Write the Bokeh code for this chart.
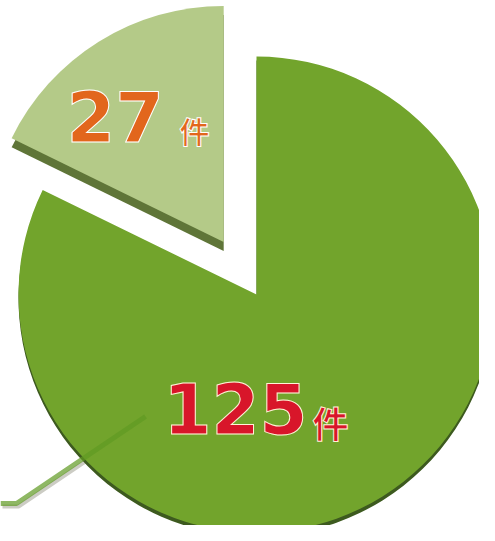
import math
from bokeh.plotting import figure
from bokeh.models import Range1d, ColumnDataSource
from bokeh.embed import file_html
from bokeh.resources import INLINE
from bokeh.core.properties import value

# ---- data ----
categories = ["A", "B"]
counts = [27, 125]
unit = "件"

# ---- style / layout ----
top_colors = ["#b4ca88", "#72a42c"]
side_colors = ["#5f7538", "#3d5a1f"]
depth = [9, 4]
explode = [62, 0]
radius = [236, 238]
label_colors = ["#e2661c", "#d8162a"]
label_outline = ["#ffffff", "#fff4d8"]
label_pos = [(66, 425), (163, 133)]     # num anchor (data coords)
unit_pos = [(179, 412), (312, 120)]
num_size = ["70px", "69px"]
unit_size = ["30px", "36px"]

W, H = 479, 525
p = figure(width=W, height=H, output_backend="svg", toolbar_location=None,
           x_range=Range1d(0, W), y_range=Range1d(541 - H, 541),
           min_border=0, background_fill_color="white")
p.axis.visible = False
p.grid.visible = False
p.outline_line_color = None

cx, cy = 256, 541 - 294
total = sum(counts)
start = math.pi / 2
starts, ends, xs, ys = [], [], [], []
for c, e in zip(counts, explode):
    a = 2 * math.pi * c / total
    s, en = start, start + a
    mid = (s + en) / 2
    starts.append(s)
    ends.append(en)
    xs.append(cx + e * math.cos(mid))
    ys.append(cy + e * math.sin(mid))
    start = en

# leader line (callout)
leader_x = [0, 16, 145]
leader_y = [541 - 503, 541 - 503, 541 - 416]
p.line([x + 2 for x in leader_x], [y - 3 for y in leader_y], line_color="#9a9a8a",
       line_width=4, line_alpha=0.5)

# depth (side) layer
side = ColumnDataSource(dict(x=xs, y=[y - d for y, d in zip(ys, depth)], r=radius,
                             s=starts, e=ends, c=side_colors))
p.wedge(x="x", y="y", radius="r", start_angle="s", end_angle="e",
        fill_color="c", line_color=None, source=side)

top = ColumnDataSource(dict(x=xs, y=ys, r=radius, s=starts, e=ends, c=top_colors))
p.wedge(x="x", y="y", radius="r", start_angle="s", end_angle="e",
        fill_color="c", line_color=None, source=top)

p.line(leader_x, leader_y, line_color="#5f9a22", line_width=5, line_alpha=0.7)

nums = ColumnDataSource(dict(x=[q[0] for q in label_pos], y=[q[1] for q in label_pos],
                             t=[str(c) for c in counts], c=label_colors, o=label_outline,
                             fs=num_size))
p.text(x="x", y="y", text="t", text_color="c", text_font=value("DejaVu Sans"),
       text_font_style="bold", text_font_size="fs", text_baseline="alphabetic",
       text_outline_color="o", source=nums)

units = ColumnDataSource(dict(x=[q[0] for q in unit_pos], y=[q[1] for q in unit_pos],
                              t=[unit] * len(counts), c=label_colors, o=label_outline,
                              fs=unit_size))
p.text(x="x", y="y", text="t", text_color="c", text_font=value("Noto Sans CJK JP"),
       text_font_style="bold", text_font_size="fs", text_baseline="alphabetic",
       text_outline_color="o", source=units)

open("out.html", "w").write(file_html(p, INLINE))
